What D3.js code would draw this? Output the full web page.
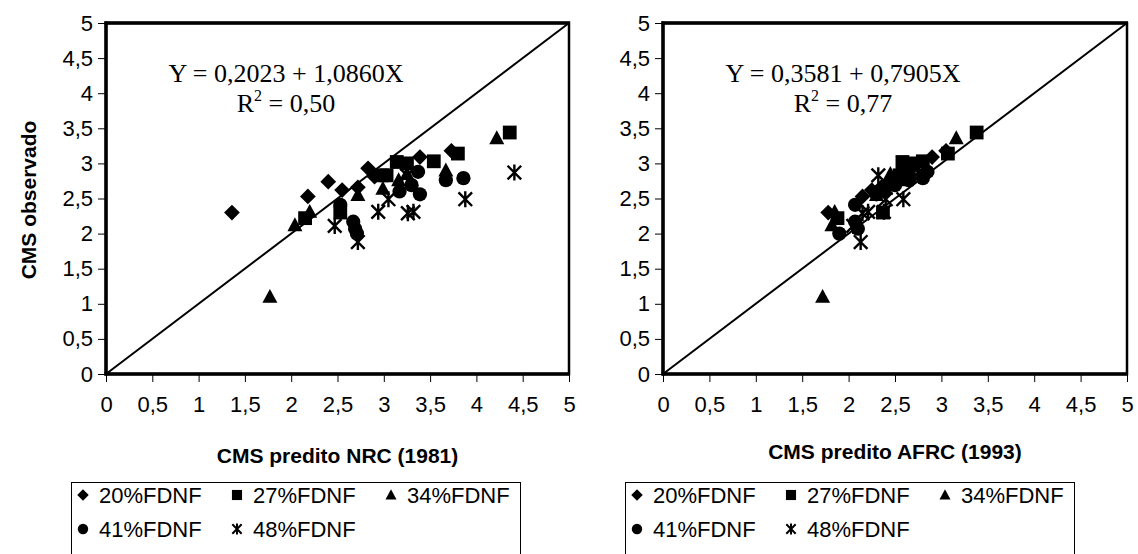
<!DOCTYPE html>
<html><head><meta charset="utf-8">
<script src="https://cdn.jsdelivr.net/npm/d3@7"></script>
<style>body{margin:0;background:#fff}svg{display:block}</style>
</head><body>
<script>
// ---- data ----
const seriesNames = ["20%FDNF","27%FDNF","34%FDNF","41%FDNF","48%FDNF"];
const seriesShapes = ["diamond","square","triangle","circle","star"];
// observed CMS (shared by both panels)
const obs20 = [2.30,2.53,2.74,2.62,2.66,2.93,2.81,3.09,3.18];
const obs27 = [2.22,2.30,2.83,2.83,3.02,3.00,3.03,3.14,3.44];
const obs34 = [1.10,2.12,2.31,2.55,2.64,2.76,2.90,3.36,2.85];
const obs41 = [2.41,2.17,2.07,2.00,2.60,2.69,2.88,2.56,2.76,2.79];
const obs48 = [2.11,1.88,2.31,2.49,2.83,2.29,2.31,2.49,2.87];
// predicted NRC (1981)
const nrc20 = [1.36,2.18,2.40,2.55,2.72,2.83,2.90,3.39,3.73];
const nrc27 = [2.15,2.53,2.98,3.03,3.14,3.25,3.54,3.80,4.36];
const nrc34 = [1.77,2.04,2.20,2.72,2.99,3.16,3.67,4.22,3.25];
const nrc41 = [2.53,2.67,2.69,2.71,3.17,3.30,3.37,3.39,3.67,3.86];
const nrc48 = [2.47,2.72,2.94,3.05,3.25,3.26,3.32,3.88,4.41];
// predicted AFRC (1993)
const afrc20 = [1.78,2.15,2.45,2.25,2.35,2.60,2.50,2.90,3.05];
const afrc27 = [1.88,2.37,2.55,2.65,2.58,2.70,2.80,3.07,3.38];
const afrc34 = [1.72,1.82,1.85,2.30,2.40,2.62,2.55,3.16,2.45];
const afrc41 = [2.07,2.07,2.10,1.90,2.38,2.50,2.85,2.30,2.65,2.80];
const afrc48 = [2.05,2.13,2.21,2.59,2.32,2.15,2.38,2.40,2.75];
const tickValues = [0,0.5,1,1.5,2,2.5,3,3.5,4,4.5,5];
const panels = [
  {obs:[obs20,obs27,obs34,obs41,obs48], pred:[nrc20,nrc27,nrc34,nrc41,nrc48],
   eq:"Y = 0,2023 + 1,0860X", r2:"0,50", xTitle:"CMS predito NRC (1981)"},
  {obs:[obs20,obs27,obs34,obs41,obs48], pred:[afrc20,afrc27,afrc34,afrc41,afrc48],
   eq:"Y = 0,3581 + 0,7905X", r2:"0,77", xTitle:"CMS predito AFRC (1993)"}
];

// ---- layout ----
const W=1138,H=554;
const svg=d3.select("body").append("svg").attr("width",W).attr("height",H);
const fmt=d=>String(d).replace(".",",");
const panelX=[[106,569],[663,1127]];
const legendBox=[[71,482,449],[625,482,449]];
const eqCenter=[286,843];
const xTitleY=[463,459];

function shapePath(kind,s){
  const h=s/2;
  switch(kind){
    case "diamond": return `M0,${-h*1.05}L${h*1.05},0L0,${h*1.05}L${-h*1.05},0Z`;
    case "square": return `M${-h*0.92},${-h*0.92}H${h*0.92}V${h*0.92}H${-h*0.92}Z`;
    case "triangle": return `M0,${-h*1.05}L${h},${h*0.8}L${-h},${h*0.8}Z`;
    case "circle": return d3.arc()({innerRadius:0,outerRadius:h*0.95,startAngle:0,endAngle:2*Math.PI});
    case "star": return `M${-h*0.85},${-h*0.85}L${h*0.85},${h*0.85}M${h*0.85},${-h*0.85}L${-h*0.85},${h*0.85}M0,${-h}V${h}`;
  }
}
function drawMarker(g,kind,x,y,s){
  const p=g.append("path").attr("transform",`translate(${x},${y})`).attr("d",shapePath(kind,s));
  if(kind==="star") p.attr("fill","none").attr("stroke","#000").attr("stroke-width",s>12?2.4:2);
  else p.attr("fill","#000");
}

const y=d3.scaleLinear().domain([0,5]).range([374,23]);

panels.forEach((P,pi)=>{
  const x=d3.scaleLinear().domain([0,5]).range(panelX[pi]);
  const g=svg.append("g");
  // frame
  g.append("rect").attr("x",x(0)).attr("y",y(5)).attr("width",x(5)-x(0)).attr("height",y(0)-y(5))
   .attr("fill","none").attr("stroke","#000").attr("stroke-width",2.5);
  // axes
  const ya=g.append("g").attr("transform",`translate(${x(0)},0)`)
    .call(d3.axisLeft(y).tickValues(tickValues).tickFormat(fmt).tickSize(8).tickPadding(5));
  const xa=g.append("g").attr("transform",`translate(0,${y(0)})`)
    .call(d3.axisBottom(x).tickValues(tickValues).tickFormat(fmt).tickSize(8).tickPadding(14));
  [ya,xa].forEach(a=>{
    a.select(".domain").remove();
    a.selectAll("line").attr("stroke","#000").attr("stroke-width",1);
    a.selectAll("text").attr("font-family","Arial, 'Liberation Sans', sans-serif").attr("font-size",22).attr("fill","#000");
  });
  g.append("line").attr("x1",x(0)).attr("x2",x(0)).attr("y1",y(5)-1.5).attr("y2",y(0)+1.5).attr("stroke","#000").attr("stroke-width",3.5);
  g.append("line").attr("x1",x(0)-1.5).attr("x2",x(5)+1).attr("y1",y(0)).attr("y2",y(0)).attr("stroke","#000").attr("stroke-width",3.5);
  g.append("line").attr("x1",x(0)-1.5).attr("x2",x(5)+1).attr("y1",y(5)).attr("y2",y(5)).attr("stroke","#000").attr("stroke-width",3.5);
  // 1:1 line
  g.append("line").attr("x1",x(0)).attr("y1",y(0)).attr("x2",x(5)).attr("y2",y(5)).attr("stroke","#000").attr("stroke-width",2);
  // points
  P.obs.forEach((ob,si)=>{
    ob.forEach((v,i)=>drawMarker(g,seriesShapes[si],x(P.pred[si][i]),y(v),si===4?16:15));
  });
  // equation
  const tf="'Times New Roman','Liberation Serif',serif";
  g.append("text").attr("x",eqCenter[pi]).attr("y",82).attr("text-anchor","middle")
    .attr("font-family",tf).attr("font-size",26).text(P.eq);
  const r=g.append("text").attr("x",eqCenter[pi]).attr("y",112).attr("text-anchor","middle")
    .attr("font-family",tf).attr("font-size",26);
  r.append("tspan").text("R");
  r.append("tspan").attr("dy",-11).attr("font-size",16).text("2");
  r.append("tspan").attr("dy",11).text(" = "+P.r2);
  // x title
  g.append("text").attr("x",(x(0)+x(5))/2).attr("y",xTitleY[pi]).attr("text-anchor","middle")
    .attr("font-family","Arial, 'Liberation Sans', sans-serif").attr("font-weight","bold").attr("font-size",21).text(P.xTitle);
  // legend
  const [lx,ly,lw]=legendBox[pi];
  const lg=g.append("g");
  lg.append("rect").attr("x",lx+0.5).attr("y",ly+0.5).attr("width",lw).attr("height",H).attr("fill","none").attr("stroke","#000").attr("stroke-width",1);
  seriesNames.forEach((nm,si)=>{
    const col=si%3,row=Math.floor(si/3);
    const mx=lx+12+col*154, my=ly+13+row*34;
    drawMarker(lg,seriesShapes[si],mx,my,11);
    lg.append("text").attr("x",mx+16).attr("y",my+8).attr("font-family","Arial, 'Liberation Sans', sans-serif")
      .attr("font-size",22).text(nm);
  });
});
// y title
svg.append("text").attr("transform","translate(36,200) rotate(-90)").attr("text-anchor","middle")
  .attr("font-family","Arial, 'Liberation Sans', sans-serif").attr("font-weight","bold").attr("font-size",21).text("CMS observado");
</script>
</body></html>
